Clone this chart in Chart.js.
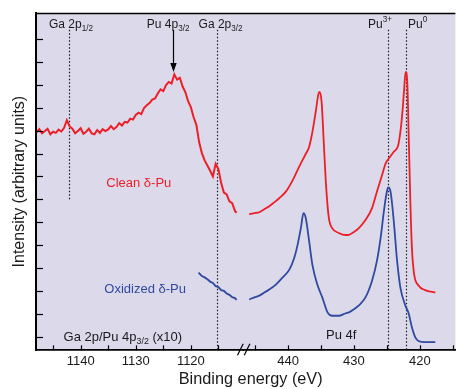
<!DOCTYPE html>
<html><head><meta charset="utf-8">
<style>html,body{margin:0;padding:0;background:#fff}</style>
<script src="https://cdn.jsdelivr.net/npm/chart.js@4.4.1/dist/chart.umd.min.js"></script>
</head><body>
<canvas id="c" width="457" height="389"></canvas>
<script>
// ---- data (binding energy in eV, intensity in arbitrary units) ----
const ga4pEnergy = [1148.0,1147.5,1147.0,1146.5,1146.0,1145.5,1145.0,1144.5,1144.0,1143.5,1143.0,1142.5,1142.0,1141.5,1141.0,1140.5,1140.0,1139.5,1139.0,1138.5,1138.0,1137.5,1137.0,1136.5,1136.0,1135.5,1135.0,1134.5,1134.0,1133.5,1133.0,1132.5,1132.0,1131.5,1131.0,1130.5,1130.0,1129.5,1129.0,1128.5,1128.0,1127.5,1127.0,1126.5,1126.0,1125.5,1125.0,1124.5,1124.0,1123.5,1123.0,1122.5,1122.0,1121.5,1121.0,1120.5,1120.0,1119.5,1119.0,1118.5,1118.0,1117.5,1117.0,1116.5,1116.0,1115.5,1115.0,1114.5,1114.0,1113.5,1113.0,1112.5,1112.0,1111.7];
const cleanGa4p = [8.92,9.06,8.88,8.98,9.08,8.84,8.95,8.90,9.04,8.96,9.12,9.45,9.18,9.08,8.88,8.98,9.10,8.86,8.95,9.08,8.88,8.84,9.02,8.90,9.06,8.98,9.05,9.20,9.06,9.15,9.32,9.22,9.38,9.35,9.52,9.48,9.68,9.78,9.72,9.98,10.10,10.20,10.35,10.40,10.62,10.80,10.72,10.98,11.12,11.05,11.45,11.22,11.30,10.92,10.68,10.28,10.02,9.58,9.25,8.50,8.02,7.70,7.48,7.25,7.00,7.55,7.32,6.72,6.30,6.22,5.92,5.84,5.50,5.42];
const oxGa4pEnergy = [1118.6,1118.0,1117.5,1117.0,1116.5,1116.0,1115.5,1115.0,1114.5,1114.0,1113.5,1113.0,1112.5,1112.0,1111.7];
const oxidGa4p = [2.81,2.66,2.60,2.52,2.42,2.36,2.22,2.18,2.05,2.02,1.90,1.84,1.74,1.70,1.62];

const cleanPu4fEnergy = [445.9,445.1,444.35,443.6,442.85,442.1,441.35,440.3,439.3,438.3,437.3,436.8,436.3,435.8,435.4,435.2,434.9,434.55,434.2,433.8,433.3,432.3,431.25,430.75,430.0,429.25,428.25,427.25,426.5,425.75,425.2,424.7,423.95,423.3,422.95,422.6,422.35,422.15,421.9,421.7,421.45,421.2,420.85,420.2,419.2,417.65];
const cleanPu4f = [5.36,5.40,5.44,5.57,5.70,5.87,6.05,6.35,6.83,7.43,7.99,8.29,8.94,9.81,10.58,10.69,10.24,8.34,6.48,5.18,4.75,4.54,4.45,4.46,4.58,4.75,5.10,5.62,6.35,7.04,7.56,7.78,8.08,8.34,8.94,9.94,10.93,11.56,11.10,8.94,6.05,3.89,2.72,2.25,2.05,1.94];
const oxPu4fEnergy = [445.9,445.1,444.35,443.6,442.85,441.85,440.85,439.8,439.05,438.55,438.05,437.65,437.3,436.8,436.3,435.55,434.8,434.0,433.3,432.3,431.25,430.75,430.0,429.25,428.25,427.25,426.5,425.95,425.45,425.05,424.8,424.45,423.95,423.45,422.95,422.2,421.7,421.2,420.7,420.2,419.2,417.65];
const oxidPu4f = [1.64,1.73,1.81,1.94,2.07,2.29,2.59,2.94,3.46,4.02,4.75,5.40,5.18,4.19,3.15,2.29,1.73,1.08,0.93,0.93,1.04,1.08,1.21,1.38,1.73,2.46,3.33,4.32,5.49,6.26,6.52,6.35,5.05,3.33,2.16,1.38,1.04,0.43,0.00,-0.17,-0.22,-0.22];

const gaLineEnergies = [1142.1, 1115.2];   // Ga 2p1/2, Ga 2p3/2
const puLineEnergies = [424.77, 422.05];   // Pu3+, Pu0
const pu4p32Energy = 1123.27;
const leftRange = [1110.5, 1148.1];
const rightRange = [414.6, 446.8];

const RED = '#ec1f27', BLUE = '#2f4a9e', INK = '#1a1a1a', BG = '#dcd9eb';
const FAM = '"Liberation Sans", Arial, Helvetica, sans-serif';
Chart.defaults.font.family = FAM;

const pts = (xs, ys) => xs.map((x, i) => ({x, y: ys[i]}));

function drawRich(ctx, segs, x, y, size, align, color) {
  const parts = segs.map(([t, k]) => ({t, k, s: k ? size * 0.68 : size}));
  let w = 0;
  parts.forEach(p => { ctx.font = p.s + 'px ' + FAM; p.w = ctx.measureText(p.t).width; w += p.w; });
  let cx = align === 'center' ? x - w / 2 : align === 'right' ? x - w : x;
  ctx.fillStyle = color; ctx.textBaseline = 'middle'; ctx.textAlign = 'left';
  parts.forEach(p => {
    ctx.font = p.s + 'px ' + FAM;
    const dy = p.k === 'sub' ? size * 0.34 : p.k === 'sup' ? -size * 0.4 : 0;
    ctx.fillText(p.t, cx, y + dy);
    cx += p.w;
  });
}

const annotations = [
  {segs: [['Ga 2p'], ['1/2', 'sub']], axis: 'xL', x: 1145.75, y: 13.6, size: 12, align: 'left', color: INK},
  {segs: [['Pu 4p'], ['3/2', 'sub']], axis: 'xL', x: 1128.0, y: 13.6, size: 12, align: 'left', color: INK},
  {segs: [['Ga 2p'], ['3/2', 'sub']], axis: 'xL', x: 1118.6, y: 13.6, size: 12, align: 'left', color: INK},
  {segs: [['Pu'], ['3+', 'sup']], axis: 'xR', x: 424.23, y: 13.6, size: 12, align: 'right', color: INK},
  {segs: [['Pu'], ['0', 'sup']], axis: 'xR', x: 421.8, y: 13.6, size: 12, align: 'left', color: INK},
  {segs: [['Clean δ-Pu']], axis: 'xL', x: 1129.45, y: 6.68, size: 13, align: 'center', color: RED},
  {segs: [['Oxidized δ-Pu']], axis: 'xL', x: 1128.3, y: 2.07, size: 13, align: 'center', color: BLUE},
  {segs: [['Ga 2p/Pu 4p'], ['3/2', 'sub'], [' (x10)']], axis: 'xL', x: 1143.1, y: 0.0, size: 13, align: 'left', color: INK},
  {segs: [['Pu 4f']], axis: 'xR', x: 431.94, y: 0.09, size: 13, align: 'center', color: INK}
];

const decor = {
  id: 'decor',
  beforeDraw(chart) {
    const {ctx, chartArea: a} = chart;
    ctx.save(); ctx.fillStyle = BG; ctx.fillRect(a.left, a.top, a.right - a.left, a.bottom - a.top); ctx.restore();
  },
  beforeDatasetsDraw(chart) {
    const {ctx, chartArea: a, scales} = chart;
    const yS = scales.y;
    ctx.save();
    ctx.strokeStyle = INK; ctx.lineWidth = 1.2; ctx.setLineDash([1.3, 2.2]);
    const top = yS.getPixelForValue(13.39);
    const lines = [
      [scales.xL, gaLineEnergies[0], yS.getPixelForValue(6.0)],
      [scales.xL, gaLineEnergies[1], a.bottom],
      [scales.xR, puLineEnergies[0], a.bottom],
      [scales.xR, puLineEnergies[1], a.bottom]
    ];
    lines.forEach(([s, e, b]) => {
      const x = Math.round(s.getPixelForValue(e)) + 0.5;
      ctx.beginPath(); ctx.moveTo(x, top); ctx.lineTo(x, b); ctx.stroke();
    });
    ctx.restore();
  },
  afterDraw(chart) {
    const {ctx, chartArea: a, scales} = chart;
    const yS = scales.y;
    ctx.save();
    ctx.strokeStyle = '#000'; ctx.lineWidth = 1.2;
    yS.ticks.filter(t => t.value >= 0 && t.value <= 13).forEach(t => {
      const y = Math.round(yS.getPixelForValue(t.value)) + 0.5;
      ctx.beginPath(); ctx.moveTo(a.left, y); ctx.lineTo(a.left + 7, y); ctx.stroke();
    });
    [scales.xL, scales.xR].forEach(s => {
      s.ticks.forEach(t => {
        const x = Math.round(s.getPixelForValue(t.value)) + 0.5;
        ctx.beginPath(); ctx.moveTo(x, a.bottom); ctx.lineTo(x, a.bottom - 5); ctx.stroke();
      });
    });
    ctx.lineWidth = 1.7;
    ctx.beginPath(); ctx.moveTo(a.left, a.top + 0.5); ctx.lineTo(a.right, a.top + 0.5); ctx.stroke();
    const sx = scales.xL.right;
    ctx.lineWidth = 1.2;
    [[-5.7, 0], [1, 6.7]].forEach(([d0, d1]) => {
      ctx.beginPath(); ctx.moveTo(sx + d0, a.bottom + 5); ctx.lineTo(sx + d1, a.bottom - 6.6); ctx.stroke();
    });
    const ax = Math.round(scales.xL.getPixelForValue(pu4p32Energy)) + 0.5;
    const ay0 = yS.getPixelForValue(13.39), ay1 = yS.getPixelForValue(11.55);
    ctx.beginPath(); ctx.moveTo(ax, ay0); ctx.lineTo(ax, ay1 - 7); ctx.stroke();
    ctx.fillStyle = '#000';
    ctx.beginPath(); ctx.moveTo(ax, ay1); ctx.lineTo(ax - 3.2, ay1 - 9); ctx.lineTo(ax + 3.2, ay1 - 9); ctx.closePath(); ctx.fill();
    annotations.forEach(n => {
      drawRich(ctx, n.segs, scales[n.axis].getPixelForValue(n.x), yS.getPixelForValue(n.y), n.size, n.align, n.color);
    });
    ctx.font = '16.3px ' + FAM; ctx.fillStyle = INK; ctx.textAlign = 'center'; ctx.textBaseline = 'alphabetic';
    ctx.fillText('Binding energy (eV)', (a.left + a.right) / 2 + 5, a.bottom + 33.4);
    ctx.restore();
  }
};

const xCommon = (range, weight) => ({
  type: 'linear', position: 'bottom', stack: 'energy', stackWeight: weight,
  min: range[0], max: range[1], reverse: true,
  grid: {display: false, drawTicks: false},
  border: {display: true, color: '#000', width: 1.7},
  ticks: {stepSize: 5, includeBounds: false, autoSkip: false, maxRotation: 0, padding: 3,
          color: INK, font: {size: 13},
          callback: v => (Math.round(v) % 10 === 0 ? String(Math.round(v)) : '')}
});

new Chart(document.getElementById('c'), {
  type: 'line',
  data: {datasets: [
    {data: pts(ga4pEnergy, cleanGa4p), xAxisID: 'xL', borderColor: RED, borderWidth: 2},
    {data: pts(cleanPu4fEnergy, cleanPu4f), xAxisID: 'xR', borderColor: RED, borderWidth: 1.8, cubicInterpolationMode: 'monotone'},
    {data: pts(oxGa4pEnergy, oxidGa4p), xAxisID: 'xL', borderColor: BLUE, borderWidth: 1.9},
    {data: pts(oxPu4fEnergy, oxidPu4f), xAxisID: 'xR', borderColor: BLUE, borderWidth: 1.8, cubicInterpolationMode: 'monotone'}
  ]},
  options: {
    responsive: false, animation: false, devicePixelRatio: 1,
    layout: {padding: {left: 5.9, top: 13, right: 0, bottom: 17.1}},
    elements: {point: {radius: 0}, line: {tension: 0, fill: false}},
    plugins: {legend: {display: false}, tooltip: {enabled: false}},
    scales: {
      xL: xCommon(leftRange, 208),
      xR: xCommon(rightRange, 213),
      y: {
        type: 'linear', position: 'left', min: -0.575, max: 14.125,
        grid: {display: false, drawTicks: false},
        border: {display: true, color: '#000', width: 2},
        ticks: {display: false, stepSize: 1, includeBounds: false},
        title: {display: true, text: 'Intensity (arbitrary units)', color: INK,
                font: {size: 16}, padding: {top: 4, bottom: 6.9}}
      }
    }
  },
  plugins: [decor]
});
</script>
</body></html>
